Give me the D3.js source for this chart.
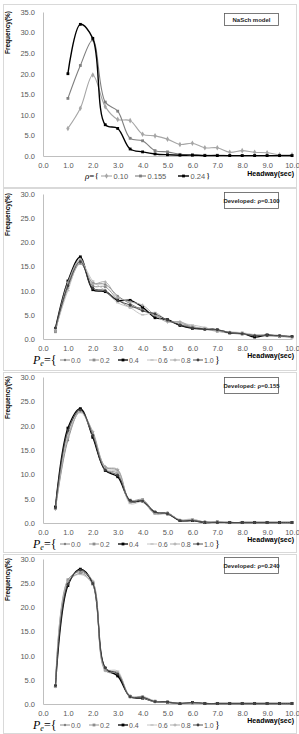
<!DOCTYPE html>
<html>
<head>
<meta charset="utf-8">
<script src="https://cdn.jsdelivr.net/npm/d3@7"></script>
<style>
body { margin: 0; background: #fff; }
text { font-family: "Liberation Sans", Arial, sans-serif; }
</style>
</head>
<body>
<svg id="chart" width="299" height="734"></svg>
<script>

// ---- data ----
var headwayNaSch = [1.0, 1.5, 2.0, 2.5, 3.0, 3.5, 4.0, 4.5, 5.0, 5.5, 6.0, 6.5, 7.0, 7.5, 8.0, 8.5, 9.0, 9.5, 10.0];
var headwayDev = [0.5, 1.0, 1.5, 2.0, 2.5, 3.0, 3.5, 4.0, 4.5, 5.0, 5.5, 6.0, 6.5, 7.0, 7.5, 8.0, 8.5, 9.0, 9.5, 10.0];

var rhoLabels = ["0.10", "0.155", "0.24"];
var nasch010 = [6.7, 11.6, 19.7, 12.0, 8.9, 8.6, 5.3, 4.9, 4.1, 2.8, 3.1, 2.0, 2.0, 0.9, 1.3, 0.9, 0.8, 0.3, 0.3];
var nasch0155 = [14.0, 22.0, 28.2, 13.1, 10.9, 4.3, 3.7, 1.3, 1.0, 0.4, 0.3, 0.2, 0.2, 0.1, 0.1, 0.1, 0.1, 0.1, 0.1];
var nasch024 = [20.0, 32.0, 28.6, 7.6, 6.7, 1.7, 1.0, 0.5, 0.3, 0.2, 0.2, 0.1, 0.1, 0.1, 0.1, 0.1, 0.1, 0.1, 0.1];

var peLabels = ["0.0", "0.2", "0.4", "0.6", "0.8", "1.0"];

// rho = 0.100
var d100pe00 = [1.8, 10.5, 15.6, 11.6, 11.3, 8.9, 7.3, 6.0, 5.0, 3.7, 3.4, 2.4, 2.1, 1.8, 1.3, 1.2, 0.8, 0.8, 0.6, 0.4];
var d100pe02 = [1.5, 11.2, 16.2, 11.0, 10.8, 8.2, 6.6, 6.4, 4.7, 3.9, 3.0, 2.6, 2.0, 1.6, 1.2, 1.0, 0.7, 0.9, 0.7, 0.4];
var d100pe04 = [2.2, 12.0, 17.0, 10.2, 9.8, 8.0, 8.0, 6.6, 4.4, 4.0, 2.8, 2.2, 2.1, 1.9, 1.3, 1.2, 0.4, 0.8, 0.6, 0.5];
var d100pe06 = [2.0, 10.0, 15.9, 12.0, 10.0, 7.5, 6.5, 5.0, 5.5, 3.8, 3.3, 2.9, 2.4, 1.7, 1.5, 1.3, 0.9, 0.6, 0.8, 0.3];
var d100pe08 = [1.7, 11.7, 16.5, 11.5, 11.8, 8.6, 7.7, 7.0, 4.9, 3.5, 3.6, 2.5, 2.2, 1.8, 1.4, 1.0, 0.8, 0.7, 0.5, 0.4];
var d100pe10 = [2.3, 11.0, 16.0, 10.5, 10.0, 8.0, 7.0, 5.8, 5.2, 3.9, 2.9, 2.3, 2.0, 1.9, 1.3, 1.1, 0.7, 0.7, 0.7, 0.5];

// rho = 0.155
var d155pe00 = [2.9, 17.0, 23.0, 18.5, 11.5, 10.8, 4.3, 4.6, 1.9, 2.0, 0.6, 0.6, 0.2, 0.1, 0.1, 0.1, 0.1, 0.1, 0.1, 0.1];
var d155pe02 = [3.2, 18.5, 23.3, 17.8, 11.0, 10.2, 4.7, 4.8, 2.2, 1.8, 0.5, 0.7, 0.2, 0.1, 0.1, 0.1, 0.1, 0.1, 0.1, 0.1];
var d155pe04 = [3.3, 19.5, 23.5, 17.6, 10.8, 9.5, 4.5, 4.4, 2.1, 2.0, 0.5, 0.5, 0.1, 0.2, 0.1, 0.1, 0.1, 0.1, 0.1, 0.1];
var d155pe06 = [3.0, 18.0, 22.7, 18.2, 11.2, 10.5, 4.0, 4.3, 1.8, 1.9, 0.7, 0.8, 0.2, 0.2, 0.1, 0.1, 0.1, 0.1, 0.1, 0.1];
var d155pe08 = [2.8, 17.5, 22.9, 18.8, 11.6, 11.0, 4.4, 4.7, 2.0, 2.1, 0.6, 0.6, 0.1, 0.1, 0.1, 0.1, 0.1, 0.1, 0.1, 0.1];
var d155pe10 = [3.1, 19.0, 23.2, 18.0, 10.9, 9.8, 4.6, 4.5, 2.3, 1.9, 0.5, 0.5, 0.2, 0.1, 0.1, 0.1, 0.1, 0.1, 0.1, 0.1];

// rho = 0.240
var d240pe00 = [3.6, 25.0, 27.0, 24.8, 7.2, 6.5, 1.5, 1.4, 0.5, 0.3, 0.1, 0.3, 0.1, 0.1, 0.1, 0.1, 0.1, 0.1, 0.1, 0.1];
var d240pe02 = [3.7, 25.7, 27.3, 25.2, 7.0, 6.0, 1.6, 1.5, 0.6, 0.3, 0.1, 0.2, 0.1, 0.1, 0.1, 0.1, 0.1, 0.1, 0.1, 0.1];
var d240pe04 = [3.7, 24.5, 27.9, 25.0, 7.4, 5.8, 1.5, 1.2, 0.5, 0.4, 0.1, 0.3, 0.1, 0.1, 0.1, 0.1, 0.1, 0.1, 0.1, 0.1];
var d240pe06 = [3.5, 25.3, 26.8, 24.6, 7.3, 6.8, 1.4, 1.6, 0.6, 0.3, 0.2, 0.2, 0.1, 0.1, 0.1, 0.1, 0.1, 0.1, 0.1, 0.1];
var d240pe08 = [3.6, 25.5, 27.5, 25.4, 6.9, 6.4, 1.7, 1.3, 0.4, 0.3, 0.1, 0.2, 0.1, 0.1, 0.1, 0.1, 0.1, 0.1, 0.1, 0.1];
var d240pe10 = [3.8, 24.8, 27.7, 24.9, 7.5, 6.2, 1.5, 1.4, 0.5, 0.4, 0.1, 0.3, 0.1, 0.1, 0.1, 0.1, 0.1, 0.1, 0.1, 0.1];

var xTicks = [0, 1, 2, 3, 4, 5, 6, 7, 8, 9, 10];

// ---- styles ----
var rhoStyles = [
  {color: "#a6a6a6", shape: "diamond", w: 1.1},
  {color: "#7f7f7f", shape: "square", w: 1.1},
  {color: "#000000", shape: "square", w: 1.4}
];
var peStyles = [
  {color: "#7f7f7f", shape: "dot", w: 0.9},
  {color: "#8c8c8c", shape: "square", w: 0.9},
  {color: "#000000", shape: "square", w: 1.3},
  {color: "#bfbfbf", shape: "dash", w: 0.9},
  {color: "#a6a6a6", shape: "plus", w: 0.9},
  {color: "#404040", shape: "circle", w: 0.9}
];

var panels = [
  {frame: [4, 187], yTop: 12, yBot: 156, yMax: 35, box: "NaSch model", boxY: [13, 25],
   x: headwayNaSch, series: [nasch010, nasch0155, nasch024], styles: rhoStyles, labels: rhoLabels, kind: "rho"},
  {frame: [188, 370], yTop: 194, yBot: 339, yMax: 30, box: "Developed: \u03c1=0.100", boxY: [192, 208],
   x: headwayDev, series: [d100pe00, d100pe02, d100pe04, d100pe06, d100pe08, d100pe10], styles: peStyles, labels: peLabels, kind: "pe"},
  {frame: [372, 552], yTop: 377, yBot: 523, yMax: 30, box: "Developed: \u03c1=0.155", boxY: [377, 393],
   x: headwayDev, series: [d155pe00, d155pe02, d155pe04, d155pe06, d155pe08, d155pe10], styles: peStyles, labels: peLabels, kind: "pe"},
  {frame: [554, 733], yTop: 559, yBot: 704, yMax: 30, box: "Developed: \u03c1=0.240", boxY: [557, 573],
   x: headwayDev, series: [d240pe00, d240pe02, d240pe04, d240pe06, d240pe08, d240pe10], styles: peStyles, labels: peLabels, kind: "pe"}
];

var svg = d3.select("#chart");
var x = d3.scaleLinear().domain([0, 10]).range([43, 292]);

function marker(g, shape, color, cx, cy) {
  if (shape === "square") {
    g.append("rect").attr("x", cx - 1.4).attr("y", cy - 1.4).attr("width", 2.8).attr("height", 2.8).attr("fill", color);
  } else if (shape === "diamond") {
    g.append("path").attr("d", d3.symbol(d3.symbolDiamond, 9)()).attr("transform", "translate(" + cx + "," + cy + ")").attr("fill", color);
  } else if (shape === "dot") {
    g.append("circle").attr("cx", cx).attr("cy", cy).attr("r", 1.2).attr("fill", color);
  } else if (shape === "circle") {
    g.append("circle").attr("cx", cx).attr("cy", cy).attr("r", 1.4).attr("fill", color);
  } else if (shape === "plus") {
    g.append("path").attr("d", "M" + (cx - 1.6) + "," + cy + "H" + (cx + 1.6) + "M" + cx + "," + (cy - 1.6) + "V" + (cy + 1.6)).attr("stroke", color).attr("stroke-width", 0.8);
  } else if (shape === "dash") {
    g.append("path").attr("d", "M" + (cx - 1.6) + "," + cy + "H" + (cx + 1.6)).attr("stroke", color).attr("stroke-width", 1.3);
  }
}

panels.forEach(function(p) {
  var g = svg.append("g");
  var y = d3.scaleLinear().domain([0, p.yMax]).range([p.yBot, p.yTop]);

  // frame
  g.append("rect")
    .attr("x", 3.5).attr("y", p.frame[0] + 0.5)
    .attr("width", 293).attr("height", p.frame[1] - p.frame[0])
    .attr("fill", "none").attr("stroke", "#d9d9d9");

  // axes
  var yAxis = d3.axisLeft(y).tickValues(d3.range(0, p.yMax + 0.1, 5)).tickFormat(d3.format(".1f")).tickSize(0).tickPadding(8);
  var xAxis = d3.axisBottom(x).tickValues(xTicks).tickFormat(d3.format(".1f")).tickSize(0).tickPadding(7);

  var ya = g.append("g").attr("transform", "translate(43,0)").call(yAxis);
  var xa = g.append("g").attr("transform", "translate(0," + p.yBot + ")").call(xAxis);
  [ya, xa].forEach(function(a) {
    a.select(".domain").attr("stroke", "#bfbfbf");
    a.selectAll("text").attr("fill", "#595959").style("font-size", "7.5px").style("font-family", "\"Liberation Sans\", Arial, sans-serif");
  });

  // y title
  g.append("text")
    .attr("transform", "translate(10," + (p.yTop - 1) + ") rotate(-90)")
    .attr("text-anchor", "end")
    .style("font-size", "6.5px").style("font-weight", "bold")
    .text("Frequency(%)");

  // x title
  g.append("text")
    .attr("x", 294).attr("y", p.kind === "rho" ? p.yBot + 20 : p.yBot + 19)
    .attr("text-anchor", "end")
    .style("font-size", "7px").style("font-weight", "bold")
    .text("Headway(sec)");

  // box label
  g.append("rect")
    .attr("x", 224.5).attr("y", p.boxY[0] + 0.5)
    .attr("width", 54).attr("height", p.boxY[1] - p.boxY[0])
    .attr("fill", "#fff").attr("stroke", "#595959").attr("stroke-width", 0.8);
  g.append("text")
    .attr("x", 251.5).attr("y", (p.boxY[0] + p.boxY[1]) / 2 + 2.8)
    .attr("text-anchor", "middle")
    .style("font-size", "6px").style("font-weight", "bold").attr("fill", "#262626")
    .text(p.box);

  // series
  var line = d3.line()
    .x(function(d) { return x(d[0]); })
    .y(function(d) { return y(d[1]); })
    .curve(d3.curveCatmullRom.alpha(0.5));

  p.series.forEach(function(vals, i) {
    var st = p.styles[i];
    var pts = vals.map(function(v, k) { return [p.x[k], v]; });
    g.append("path").datum(pts)
      .attr("d", line).attr("fill", "none")
      .attr("stroke", st.color).attr("stroke-width", st.w);
    var mg = g.append("g");
    pts.forEach(function(d) { marker(mg, st.shape, st.color, x(d[0]), y(d[1])); });
  });

  // legend
  var lg = g.append("g");
  if (p.kind === "rho") {
    var ly = p.yBot + 20;
    lg.append("text").attr("x", 85).attr("y", ly + 3)
      .style("font-family", "\"Liberation Serif\", serif").style("font-size", "9px")
      .html("<tspan font-style='italic'>\u03c1</tspan>={");
    var lx = [101, 135, 178];
    p.labels.forEach(function(lab, i) {
      var st = p.styles[i];
      lg.append("path").attr("d", "M" + lx[i] + "," + ly + "H" + (lx[i] + 11))
        .attr("stroke", st.color).attr("stroke-width", st.w);
      marker(lg, st.shape, st.color, lx[i] + 5.5, ly);
      lg.append("text").attr("x", lx[i] + 12.5).attr("y", ly + 2.7)
        .style("font-size", "7.5px").attr("fill", "#595959").text(lab);
    });
    lg.append("text").attr("x", 206).attr("y", ly + 3)
      .style("font-family", "\"Liberation Serif\", serif").style("font-size", "9px").text("}");
  } else {
    var ly2 = p.yBot + 21;
    lg.append("text").attr("x", 33).attr("y", ly2 + 4)
      .style("font-family", "\"Liberation Serif\", serif").style("font-size", "12px")
      .html("<tspan font-style='italic'>P</tspan><tspan font-style='italic' font-size='8px' dy='2'>e</tspan><tspan dy='-2'>={</tspan>");
    var lx2 = [60, 89, 118, 147, 170, 193];
    p.labels.forEach(function(lab, i) {
      var st = p.styles[i];
      lg.append("path").attr("d", "M" + lx2[i] + "," + ly2 + "H" + (lx2[i] + 10))
        .attr("stroke", st.color).attr("stroke-width", st.w);
      marker(lg, st.shape, st.color, lx2[i] + 5, ly2);
      lg.append("text").attr("x", lx2[i] + 11).attr("y", ly2 + 2.5)
        .style("font-size", "7px").attr("fill", "#595959").text(lab);
    });
    lg.append("text").attr("x", 215).attr("y", ly2 + 3)
      .style("font-family", "\"Liberation Serif\", serif").style("font-size", "10px").text("}");
  }
});

</script>
</body>
</html>
